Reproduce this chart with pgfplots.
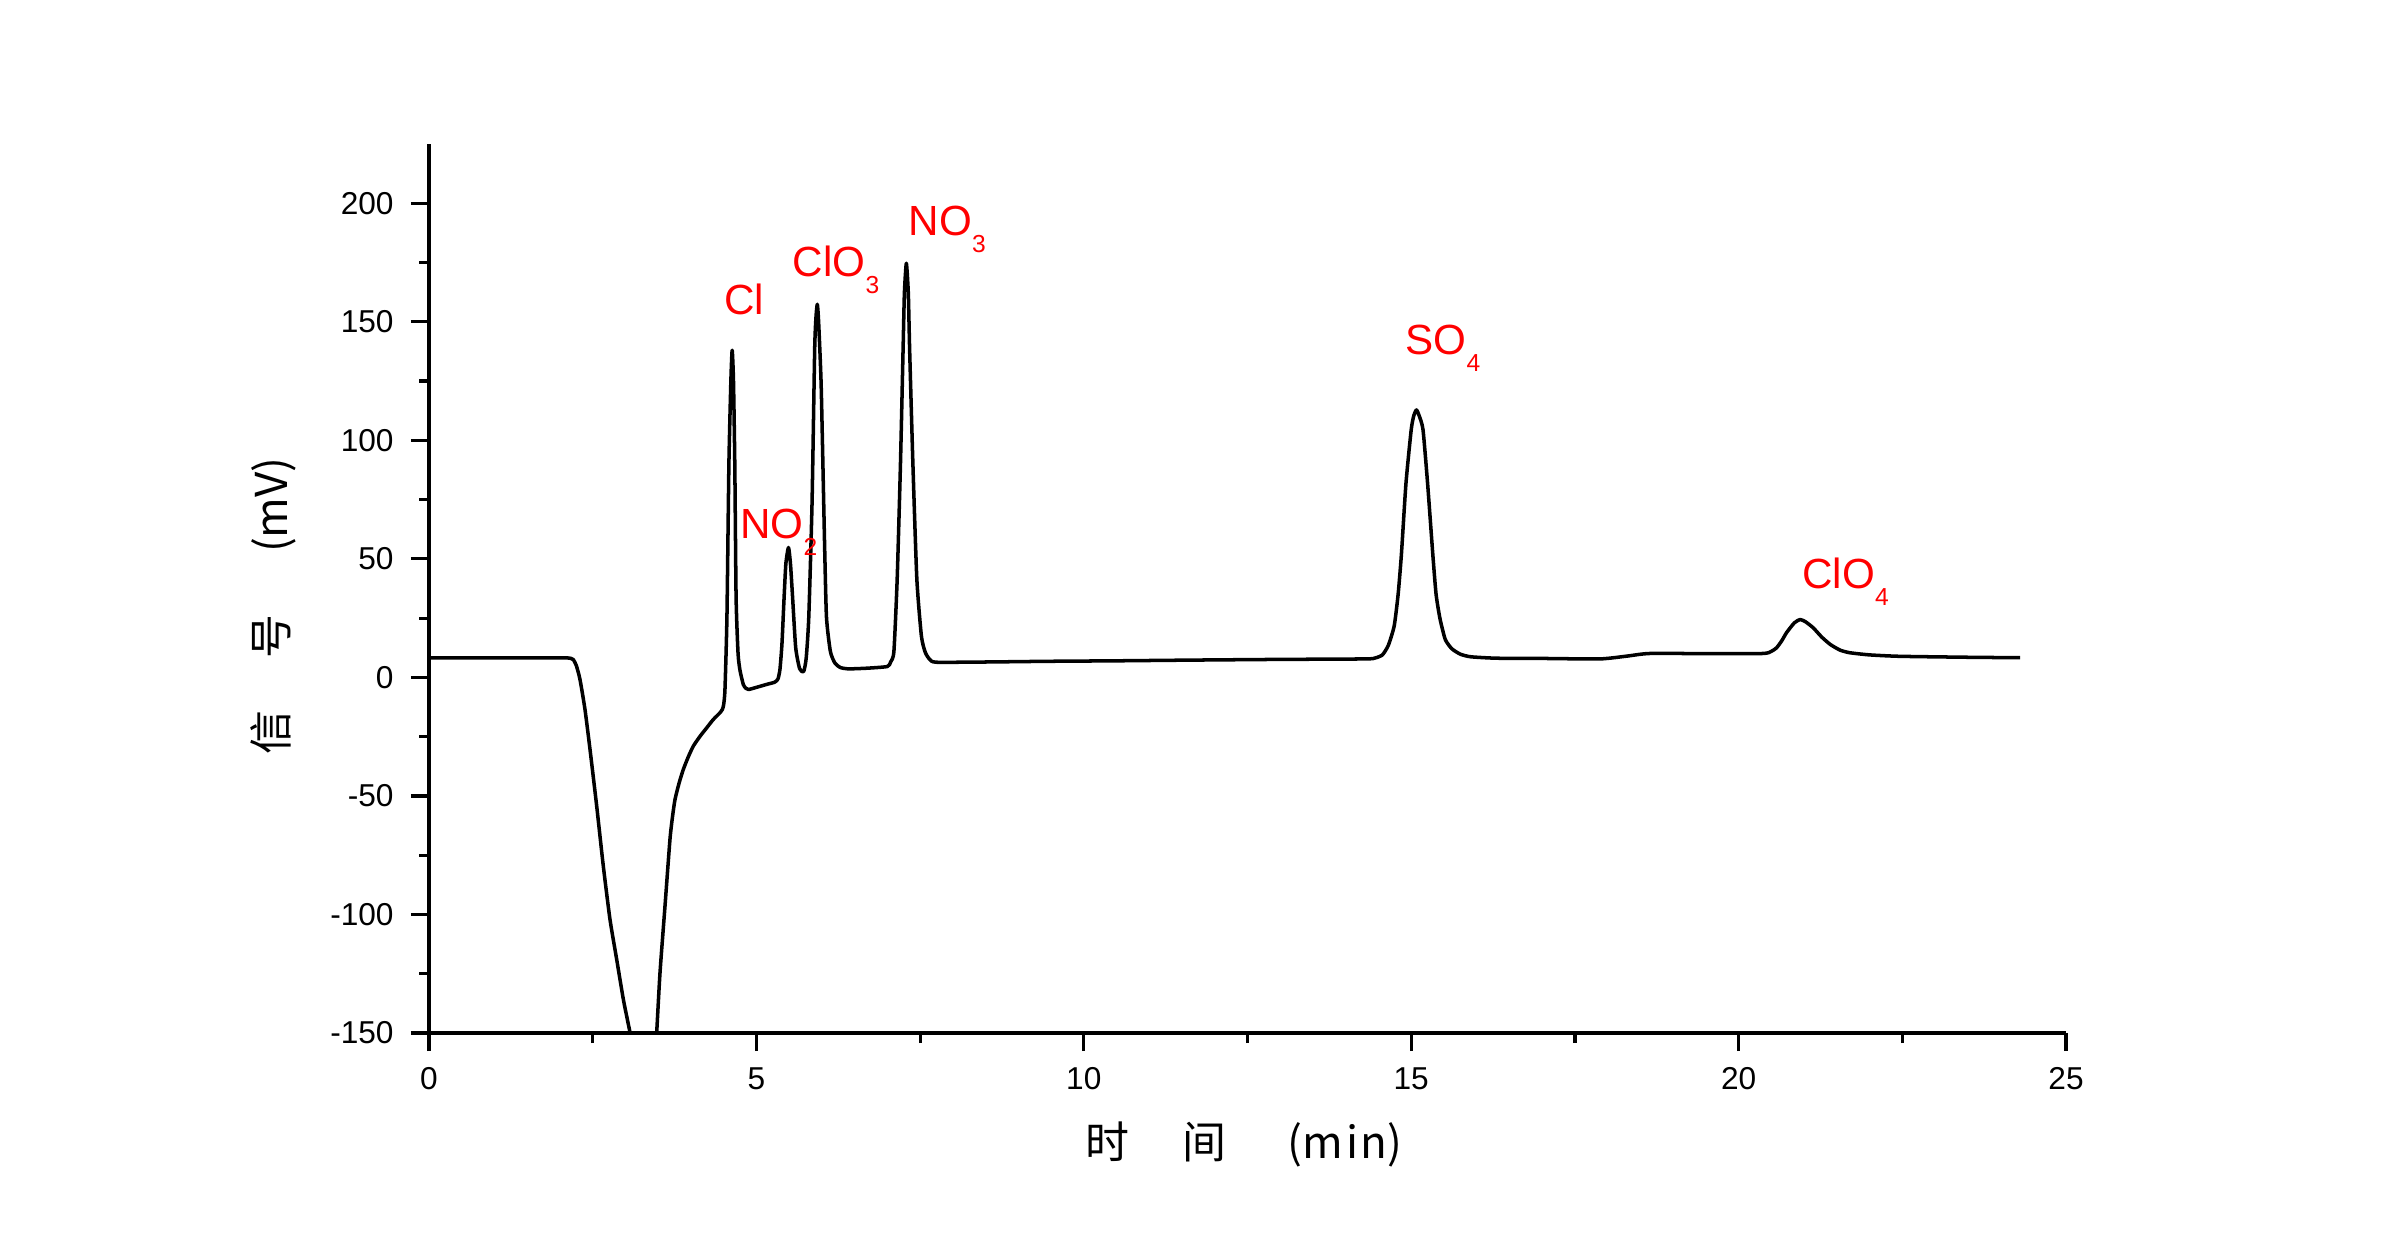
\documentclass[border=0pt]{standalone}
\usepackage{pgfplots}
\pgfplotsset{compat=1.18}
\usepackage{fontspec}
\setmainfont{Liberation Sans}
\newfontfamily\cjk{Noto Sans CJK SC}
\newcommand{\sub}[1]{\raisebox{-1.7mm}{\fontsize{7}{8}\selectfont #1}}
\begin{document}
\begin{tikzpicture}
\useasboundingbox (-42.9mm,-20.7mm) rectangle (197.1mm,103.3mm);
\begin{axis}[
  at={(0,0)}, anchor=south west,
  scale only axis, width=163.7mm, height=88.9mm,
  xmin=0, xmax=25, ymin=-150, ymax=225,
  axis lines*=left,
  axis line style={line width=0.9pt},
  tick align=outside,
  major tick length=1.8mm, minor tick length=1.0mm,
  every tick/.style={line width=0.9pt, black},
  xtick={0,5,10,15,20,25}, xticklabels={0,5,10,15,20,25},
  minor xtick={2.5,7.5,12.5,17.5,22.5},
  ytick={-150,-100,-50,0,50,100,150,200},
  yticklabels={-150,-100,-50,0,50,100,150,200},
  minor ytick={-125,-75,-25,25,75,125,175},
  ticklabel style={font=\fontsize{9}{10}\selectfont},
  yticklabel style={xshift=-0.5mm},
  xticklabel style={yshift=-0.4mm},
  xlabel={\cjk 时\hspace{1.2em}间\hspace{1.4em}(m\kern0.06em i\kern0.06em n)},
  ylabel={\cjk 信\hspace{1.2em}号\hspace{1.4em}(mV)},
  label style={font=\fontsize{12.5}{14}\selectfont},
  xlabel style={at={(axis description cs:0.498,-0.1249)}, anchor=center},
  ylabel style={at={(axis description cs:-0.0953,0.48)}, anchor=center, rotate=0},
]
\addplot[black, line width=1pt, line join=round, smooth, tension=0.35] coordinates {
(0,8.2) (1.0,8.2) (2.0,8.2) (2.12,8.2) (2.17,8.0) (2.204,7.5) (2.25,5.0)
(2.306,-0.9) (2.382,-13.5) (2.459,-30.4) (2.561,-54.3) (2.662,-79.6)
(2.764,-102.1) (2.866,-118.9) (2.968,-135.8) (3.070,-149.8) (3.20,-168)
(3.30,-182) (3.37,-190) (3.43,-173) (3.477,-150) (3.528,-124.5)
(3.604,-96.5) (3.680,-68.3) (3.72,-58.5) (3.757,-51.5) (3.82,-44.5)
(3.884,-38.8) (3.96,-33.5) (4.036,-29) (4.14,-24.8) (4.24,-21.3) (4.34,-17.8)
(4.444,-14.9) (4.48,-13.5) (4.50,-11.5) (4.52,-5)
(4.55,25.5) (4.58,90) (4.61,125) (4.63,138) (4.65,125) (4.67,90) (4.69,33.5)
(4.72,10) (4.75,2.9) (4.80,-3) (4.84,-4.6) (4.88,-5.1) (5.00,-4.2) (5.15,-3)
(5.28,-2) (5.33,-0.6) (5.36,3.5) (5.39,14) (5.42,32) (5.45,48) (5.49,54.8) (5.52,48)
(5.55,35) (5.60,12.6) (5.66,3.7) (5.72,2.4) (5.76,8) (5.80,25.5) (5.85,73.9)
(5.89,138.4) (5.91,152) (5.93,157.4) (5.95,150) (5.99,122.3) (6.04,57.7)
(6.07,25.5) (6.13,10.9) (6.20,6) (6.28,4.2) (6.40,3.6) (6.7,3.9) (7.0,4.6) (7.05,6.5) (7.10,11)
(7.15,41.6) (7.20,90) (7.24,138.4) (7.26,162) (7.29,174.7) (7.32,162)
(7.34,138.4) (7.39,90) (7.45,41.6) (7.52,17.4) (7.58,10.5) (7.65,7.5) (7.75,6.4)
(8.5,6.5) (9.48,6.8) (10.5,7.0) (11.64,7.3) (13,7.6) (14.3,7.8) (14.45,8.2)
(14.56,9.5) (14.65,13.5) (14.74,21.7) (14.80,35) (14.85,51.8) (14.92,81.9) (15.00,104.5)
(15.04,110.5) (15.08,112.8) (15.12,110.5) (15.18,104.5) (15.25,81.9)
(15.33,51.8) (15.38,35) (15.44,24.7) (15.52,16) (15.62,12.1) (15.75,9.8) (15.91,8.7)
(16.3,8.1) (17.0,8.0) (17.88,7.8) (18.3,9) (18.65,10.1) (19.67,10.0)
(20.38,10.1) (20.50,11) (20.58,12.5) (20.66,15.5) (20.73,18.8) (20.85,23) (20.94,24.4)
(21.02,23.5) (21.14,20.9) (21.27,17) (21.40,13.9) (21.55,11.5) (21.70,10.4)
(22.0,9.5) (22.46,8.9) (23.5,8.5) (24.30,8.3)
};
\begin{scope}[every node/.style={red, inner sep=0pt, anchor=base west, font=\fontsize{12}{13}\selectfont}]
\node at (axis cs:4.50,153.2) {Cl};
\node at (axis cs:4.746,58.6) {NO\sub{2}};
\node at (axis cs:5.548,169.1) {ClO\sub{3}};
\node at (axis cs:7.318,186.5) {NO\sub{3}};
\node at (axis cs:14.904,136.1) {SO\sub{4}};
\node at (axis cs:20.963,37.4) {ClO\sub{4}};
\end{scope}
\end{axis}
\end{tikzpicture}
\end{document}
